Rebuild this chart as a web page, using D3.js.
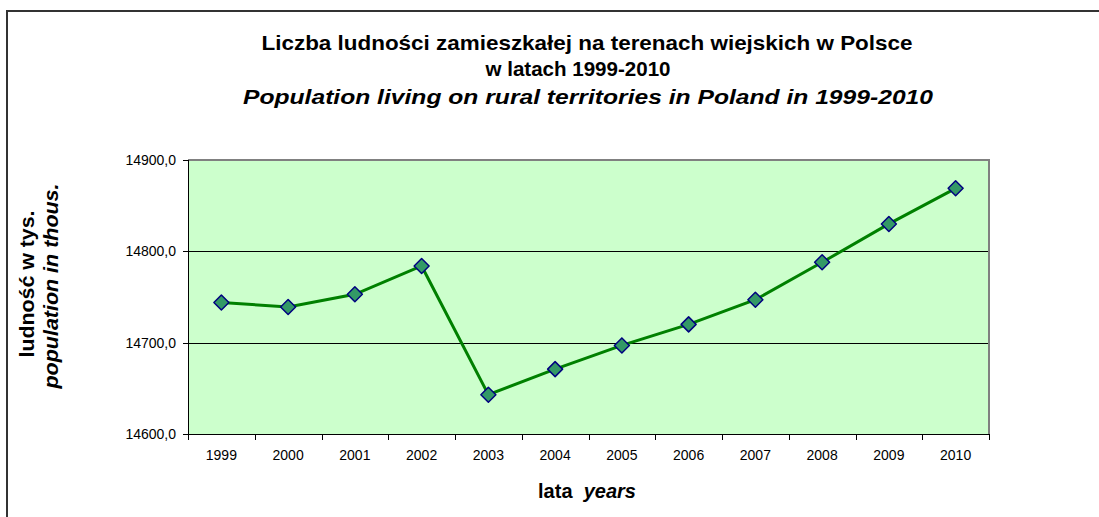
<!DOCTYPE html>
<meta charset="utf-8">
<style>
body { margin: 0; background: #fff; font-family: "Liberation Sans", Arial, sans-serif; }
.axis path, .axis line { stroke: #000; shape-rendering: crispEdges; }
</style>
<body>
<script src="https://d3js.org/d3.v7.min.js"></script>
<script>
// data
var years = ["1999","2000","2001","2002","2003","2004","2005","2006","2007","2008","2009","2010"];
var population = [14744, 14739, 14753, 14784, 14643, 14671, 14697, 14720, 14747, 14788, 14830, 14869];
var yTicks = [14600, 14700, 14800, 14900];

var W = 1099, H = 517;
var margin = {top: 160, right: 110, bottom: 83, left: 188},
    width = W - margin.left - margin.right,
    height = H - margin.top - margin.bottom;

var svg = d3.select("body").append("svg")
    .attr("width", W)
    .attr("height", H);

// outer chart frame (runs off the right and bottom edge)
svg.append("rect")
    .attr("x", 7).attr("y", 11)
    .attr("width", W + 20).attr("height", H + 20)
    .attr("fill", "#fff")
    .attr("stroke", "#333")
    .attr("stroke-width", 2);

var g = svg.append("g")
    .attr("transform", "translate(" + margin.left + "," + margin.top + ")");

var x = d3.scaleBand().domain(years).range([0, width]);
var y = d3.scaleLinear().domain([14600, 14900]).range([height, 0]);

// plot area
g.append("rect")
    .attr("width", width).attr("height", height)
    .attr("fill", "#ccffcc");

// grid lines
g.selectAll(".grid").data(yTicks.slice(1, 3)).enter().append("line")
    .attr("x1", 0).attr("x2", width)
    .attr("y1", function(d) { return Math.round(y(d)) + 0.5; })
    .attr("y2", function(d) { return Math.round(y(d)) + 0.5; })
    .attr("stroke", "#000").attr("stroke-width", 1);

// grey top and right border
g.append("path")
    .attr("d", "M0,0H" + width + "V" + height)
    .attr("fill", "none")
    .attr("stroke", "#808080")
    .attr("stroke-width", 2);

// axes
var xAxis = g.append("g").attr("class", "axis")
    .attr("transform", "translate(0," + height + ")")
    .call(d3.axisBottom(x).tickSize(0).tickPadding(16));
xAxis.select(".domain").remove();
xAxis.append("path")
    .attr("d", "M0,0.5H" + width)
    .attr("stroke", "#000");
// ticks between categories
xAxis.selectAll(".bt").data(d3.range(years.length + 1)).enter().append("line")
    .attr("x1", function(i) { return Math.round(i * x.step()) + 0.5; })
    .attr("x2", function(i) { return Math.round(i * x.step()) + 0.5; })
    .attr("y1", 0).attr("y2", 6)
    .attr("stroke", "#000");

var yAxis = g.append("g").attr("class", "axis")
    .call(d3.axisLeft(y).tickValues(yTicks).tickSize(5).tickPadding(7)
        .tickFormat(function(d) { return d3.format(".1f")(d).replace(".", ","); }));
yAxis.select(".domain").attr("d", "M0.5,0V" + height);

g.selectAll(".axis").attr("font-family", "Liberation Sans, Arial, sans-serif")
    .attr("font-size", 14);

// line
var line = d3.line()
    .x(function(d, i) { return x(years[i]) + x.bandwidth() / 2; })
    .y(function(d) { return y(d); });

g.append("path")
    .datum(population)
    .attr("d", line)
    .attr("fill", "none")
    .attr("stroke", "#008000")
    .attr("stroke-width", 3);

// diamond markers
g.selectAll(".pt").data(population).enter().append("path")
    .attr("transform", function(d, i) {
        return "translate(" + (x(years[i]) + x.bandwidth() / 2) + "," + y(d) + ")";
    })
    .attr("d", "M0,-7.5L7.5,0L0,7.5L-7.5,0Z")
    .attr("fill", "#339966")
    .attr("stroke", "#000080")
    .attr("stroke-width", 1.5)
    .attr("stroke-linejoin", "round");

// titles
function title(txt, xPos, yPos, len, italic) {
    svg.append("text").attr("x", xPos).attr("y", yPos)
        .attr("text-anchor", "middle")
        .attr("textLength", len)
        .attr("lengthAdjust", "spacingAndGlyphs")
        .style("font-size", "21px").style("font-weight", "bold")
        .style("font-style", italic ? "italic" : "normal")
        .text(txt);
}
title("Liczba ludności zamieszkałej na terenach wiejskich w Polsce", 587, 50, 651, false);
title("w latach 1999-2010", 578, 76, 185, false);
title("Population living on rural territories in Poland in 1999-2010", 588, 104, 690, true);

// x title
var xt = svg.append("text").attr("x", 587).attr("y", 498)
    .attr("text-anchor", "middle")
    .attr("xml:space", "preserve")
    .style("font-size", "20px").style("font-weight", "bold");
xt.append("tspan").text("lata  ");
xt.append("tspan").style("font-style", "italic").text("years");

// y title
svg.append("text")
    .attr("transform", "translate(34,284) rotate(-90)")
    .attr("text-anchor", "middle")
    .attr("textLength", 147)
    .attr("lengthAdjust", "spacingAndGlyphs")
    .style("font-size", "20px").style("font-weight", "bold")
    .text("ludność w tys.");
svg.append("text")
    .attr("transform", "translate(58,286) rotate(-90)")
    .attr("text-anchor", "middle")
    .attr("textLength", 205)
    .attr("lengthAdjust", "spacingAndGlyphs")
    .style("font-size", "20px").style("font-weight", "bold").style("font-style", "italic")
    .text("population in thous.");
</script>
</body>
